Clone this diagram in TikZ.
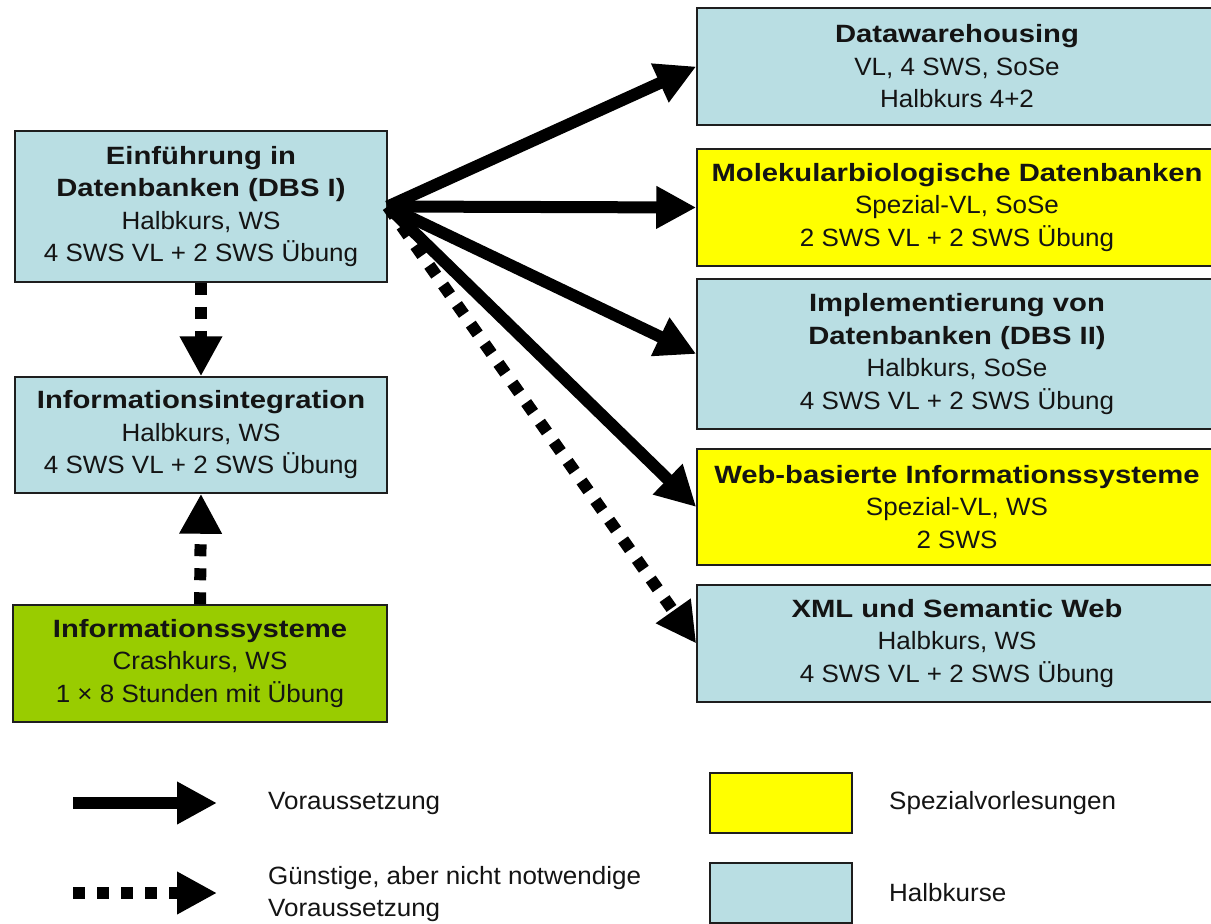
\documentclass[tikz,border=0pt]{standalone}
\usepackage{fontspec}
\setmainfont{Liberation Sans}[FakeStretch=1.04]
\newfontfamily\titlefont{Liberation Sans}[FakeStretch=1.17]
\usetikzlibrary{arrows.meta}
\definecolor{halfblue}{RGB}{185,222,227}
\definecolor{spezyellow}{RGB}{255,255,0}
\definecolor{crashgreen}{RGB}{153,204,0}
\definecolor{boxline}{RGB}{30,30,30}
\definecolor{txt}{RGB}{20,20,20}
\newcommand{\ttl}[1]{{\titlefont\bfseries #1}}
\tikzset{
  box/.style={draw=boxline, line width=1.5pt, inner sep=0pt, align=center,
    font=\fontsize{25}{32.5}\selectfont, text=txt},
  half/.style={box, fill=halfblue},
  spez/.style={box, fill=spezyellow},
  crash/.style={box, fill=crashgreen},
  req/.style={line width=12pt, -{Triangle[length=40pt,width=40pt]}},
  opt/.style={req, dash pattern=on 12pt off 12pt},
  lbl/.style={inner sep=0pt, anchor=west, align=left, text=txt,
    font=\fontsize{25}{32.5}\selectfont},
}
\begin{document}
\begin{tikzpicture}[x=1pt,y=-1pt]
\useasboundingbox (0,0) rectangle (1211,924);
\clip (0,0) rectangle (1211,924);
\fill[white] (0,0) rectangle (1211,924);

% left column
\node[half, minimum width=372pt, minimum height=151pt] (dbs) at (201,206.5)
  {\ttl{Einführung in}\\\ttl{Datenbanken (DBS I)}\\Halbkurs, WS\\4 SWS VL + 2 SWS Übung};
\node[half, minimum width=372pt, minimum height=116pt] (ii) at (201,435)
  {\ttl{Informationsintegration}\\Halbkurs, WS\\4 SWS VL + 2 SWS Übung};
\node[crash, minimum width=374pt, minimum height=117pt] (is) at (200,663.5)
  {\ttl{Informationssysteme}\\Crashkurs, WS\\1 × 8 Stunden mit Übung};

% right column
\node[half, minimum width=520pt, minimum height=117pt] (dw) at (957,66.5)
  {\ttl{Datawarehousing}\\VL, 4 SWS, SoSe\\Halbkurs 4+2};
\node[spez, minimum width=520pt, minimum height=117pt] (mol) at (957,207.5)
  {\ttl{Molekularbiologische Datenbanken}\\Spezial-VL, SoSe\\2 SWS VL + 2 SWS Übung};
\node[half, minimum width=520pt, minimum height=150pt] (impl) at (957,354)
  {\ttl{Implementierung von}\\\ttl{Datenbanken (DBS II)}\\Halbkurs, SoSe\\4 SWS VL + 2 SWS Übung};
\node[spez, minimum width=520pt, minimum height=116pt] (web) at (957,507)
  {\ttl{Web-basierte Informationssysteme}\\Spezial-VL, WS\\2 SWS};
\node[half, minimum width=520pt, minimum height=117pt] (xml) at (957,643.5)
  {\ttl{XML und Semantic Web}\\Halbkurs, WS\\4 SWS VL + 2 SWS Übung};

% connectors
\draw[req] (dbs.east) -- (dw.west);
\draw[req] (dbs.east) -- (mol.west);
\draw[req] (dbs.east) -- (impl.west);
\draw[req] (dbs.east) -- (web.west);
\draw[opt] (dbs.east) -- (xml.west);
\draw[opt] (dbs.south) -- (ii.north);
\draw[opt] (is.north) -- (ii.south);

% legend
\coordinate (la1) at (73,803);
\coordinate (la2) at (217,803);
\coordinate (lb1) at (73,893);
\coordinate (lb2) at (217,893);
\draw[req] (la1) -- (la2);
\draw[opt] (lb1) -- (lb2);
\node[lbl] (lta) at (268,803) {Voraussetzung};
\node[lbl] (ltb) at (268,894) {Günstige, aber nicht notwendige\\Voraussetzung};
\node[spez, minimum width=142pt, minimum height=60pt] (lys) at (781,803) {};
\node[half, minimum width=142pt, minimum height=60pt] (lyb) at (781,893) {};
\node[lbl] (ltc) at (889,803) {Spezialvorlesungen};
\node[lbl] (ltd) at (889,893) {Halbkurse};
\end{tikzpicture}
\end{document}
